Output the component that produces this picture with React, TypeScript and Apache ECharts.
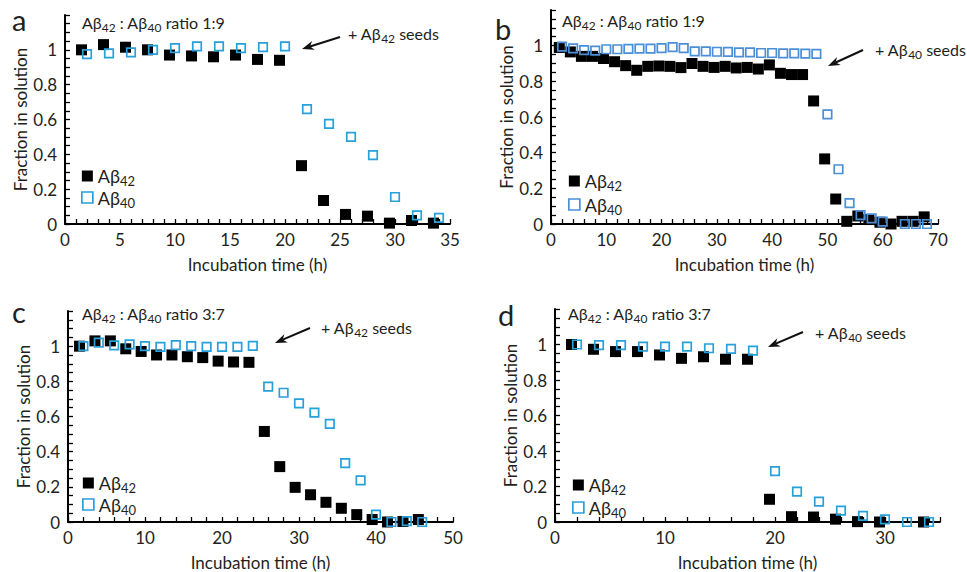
import React, { useEffect, useRef } from 'react';
import * as echarts from 'echarts';

// ---------- data ----------
// panel a (Aβ42 : Aβ40 1:9, + Aβ42 seeds)
const aX42 = [1.5, 3.5, 5.5, 7.5, 9.5, 11.5, 13.5, 15.5, 17.5, 19.5, 21.5, 23.5, 25.5, 27.5, 29.5, 31.5, 33.5];
const aY42 = [1.0, 1.03, 1.015, 1.0, 0.97, 0.965, 0.96, 0.97, 0.945, 0.94, 0.335, 0.135, 0.055, 0.045, 0.005, 0.02, 0.005];
const aX40 = [2, 4, 6, 8, 10, 12, 14, 16, 18, 20, 22, 24, 26, 28, 30, 32, 34];
const aY40 = [0.975, 0.98, 0.985, 1.0, 1.01, 1.02, 1.02, 1.01, 1.015, 1.02, 0.66, 0.575, 0.5, 0.395, 0.155, 0.05, 0.035];

// panel b (1:9, + Aβ40 seeds)
const bX42 = [1.5, 3.5, 5.5, 7.5, 9.5, 11.5, 13.5, 15.5, 17.5, 19.5, 21.5, 23.5, 25.5, 27.5, 29.5, 31.5, 33.5,
  35.5, 37.5, 39.5, 41.5, 43.5, 45.5, 47.5, 49.5, 51.5, 53.5, 55.5, 57.5, 59.5, 61.5, 63.5, 65.5, 67.5];
const bY42 = [0.99, 0.965, 0.94, 0.94, 0.928, 0.91, 0.888, 0.862, 0.884, 0.886, 0.884, 0.877, 0.9, 0.884, 0.878, 0.884, 0.875,
  0.878, 0.869, 0.892, 0.845, 0.838, 0.838, 0.69, 0.365, 0.14, 0.015, 0.045, 0.025, 0.01, 0.0, 0.015, 0.015, 0.04];
const bX40 = [2, 4, 6, 8, 10, 12, 14, 16, 18, 20, 22, 24, 26, 28, 30, 32, 34, 36, 38, 40, 42, 44, 46, 48,
  50, 52, 54, 56, 58, 60, 64, 66, 68];
const bY40 = [0.995, 0.985, 0.975, 0.972, 0.98, 0.98, 0.982, 0.983, 0.983, 0.986, 0.992, 0.986, 0.968, 0.968, 0.966, 0.965,
  0.962, 0.962, 0.959, 0.959, 0.957, 0.957, 0.955, 0.954, 0.615, 0.307, 0.117, 0.05, 0.032, 0.013, 0.0, 0.0, 0.0];

// panel c (3:7, + Aβ42 seeds)
const cX42 = [1.5, 3.5, 5.5, 7.5, 9.5, 11.5, 13.5, 15.5, 17.5, 19.5, 21.5, 23.5, 25.5, 27.5, 29.5, 31.5, 33.5, 35.5, 37.5, 39.5, 41.5, 43.5, 45.5];
const cY42 = [1.0, 1.03, 1.03, 0.985, 0.97, 0.95, 0.95, 0.94, 0.935, 0.915, 0.91, 0.908, 0.515, 0.315, 0.197, 0.155, 0.112, 0.078, 0.042, 0.014, 0.0, 0.003, 0.014];
const cX40 = [2, 4, 6, 8, 10, 12, 14, 16, 18, 20, 22, 24, 26, 28, 30, 32, 34, 36, 38, 40, 42, 44, 46];
const cY40 = [1.0, 1.02, 1.005, 1.01, 1.0, 0.996, 1.006, 1.0, 0.996, 0.996, 0.996, 1.002, 0.77, 0.735, 0.675, 0.622, 0.558, 0.335, 0.237, 0.042, 0.0, 0.005, 0.0];

// panel d (3:7, + Aβ40 seeds)
const dX42 = [1.5, 3.5, 5.5, 7.5, 9.5, 11.5, 13.5, 15.5, 17.5, 19.5, 21.5, 23.5, 25.5, 27.5, 29.5, 33.5];
const dY42 = [1.0, 0.973, 0.96, 0.96, 0.941, 0.922, 0.931, 0.917, 0.917, 0.128, 0.03, 0.028, 0.016, 0.002, 0.0, 0.0];
const dX40 = [2, 4, 6, 8, 10, 12, 14, 16, 18, 20, 22, 24, 26, 28, 30, 32, 34];
const dY40 = [1.0, 0.997, 0.997, 0.988, 0.988, 0.988, 0.979, 0.975, 0.965, 0.287, 0.171, 0.115, 0.064, 0.034, 0.015, 0.0, 0.0];

const X_TITLE = 'Incubation time (h)';
const Y_TITLE = 'Fraction in solution';
const PANEL_LETTERS = ['a', 'b', 'c', 'd'];
const RATIOS = ['1:9', '1:9', '3:7', '3:7'];
const SEED_SUBS = ['42', '40', '42', '40'];

// ---------- styles / layout ----------
const FONT = 'Lato, "Noto Sans", sans-serif';
const TXT = '#231f20';
const BLUE = '#27a1d9';
const BLUE_B = '#4a8fd8';

const PANELS = [
  { grid: { left: 65, top: 15, width: 385, height: 209 }, xMax: 35, xTick: 1, xLab: 5, blue: BLUE, s42: [aX42, aY42], s40: [aX40, aY40], lg: { left: 81, top: 167, gap: 1 } },
  { grid: { left: 551, top: 10, width: 387, height: 214 }, xMax: 70, xTick: 2, xLab: 10, blue: BLUE_B, s42: [bX42, bY42], s40: [bX40, bY40], lg: { left: 568, top: 172, gap: 3 } },
  { grid: { left: 68, top: 311, width: 385, height: 212 }, xMax: 50, xTick: 2, xLab: 10, blue: BLUE, s42: [cX42, cY42], s40: [cX40, cY40], lg: { left: 82, top: 474, gap: 1 } },
  { grid: { left: 555, top: 309, width: 385, height: 213 }, xMax: 35, xTick: 2, xLab: 10, blue: BLUE, s42: [dX42, dY42], s40: [dX40, dY40], lg: { left: 572, top: 476, gap: 2 } },
];

const NOTES = [
  { lx: 12, ly: 19, tx: 82, ty: 22, sx: 348, sy: 33, arrow: [340, 37, 302, 49] },
  { lx: 495, ly: 28, tx: 562, ty: 20, sx: 875, sy: 49, arrow: [863, 50, 828, 66] },
  { lx: 12, ly: 311, tx: 82, ty: 313, sx: 321, sy: 327, arrow: [310, 328, 275, 343] },
  { lx: 498, ly: 314, tx: 568, ty: 313, sx: 815, sy: 332, arrow: [803, 332, 768, 347] },
];

function pairs(xs: number[], ys: number[]) {
  return xs.map((x, i) => [x, ys[i]]);
}

function yLabel(v: number) {
  const r = Math.round(v * 100);
  if (r % 20 !== 0 || r > 100) return '';
  return String(r / 100);
}

function xLabel(step: number) {
  return (v: number) => {
    const r = Math.round(v);
    return Math.abs(v - r) < 1e-6 && r % step === 0 ? String(r) : '';
  };
}

function richOpt(size: number, sub: number) {
  return {
    n: { fontSize: size, fontFamily: FONT, color: TXT, lineHeight: 22 },
    s: { fontSize: sub, fontFamily: FONT, color: TXT, padding: [10, 0, 0, 0] },
  };
}
function richGfx(size: number, sub: number) {
  return {
    n: { fontSize: size, fontFamily: FONT, fill: TXT, lineHeight: 22 },
    s: { fontSize: sub, fontFamily: FONT, fill: TXT, padding: [10, 0, 0, 0] },
  };
}

function arrowHead(x1: number, y1: number, x2: number, y2: number) {
  const len = 12, half = 4.5;
  const dx = x2 - x1, dy = y2 - y1, L = Math.hypot(dx, dy);
  const ux = dx / L, uy = dy / L, nx = -uy, ny = ux;
  const bx = x2 - ux * len, by = y2 - uy * len;
  return [
    [x2, y2],
    [bx + nx * half, by + ny * half],
    [x2 - ux * len * 0.7, y2 - uy * len * 0.7],
    [bx - nx * half, by - ny * half],
  ];
}

function buildOption() {
  const grid: any[] = [];
  const xAxis: any[] = [];
  const yAxis: any[] = [];
  const series: any[] = [];
  const legend: any[] = [];
  const graphic: any[] = [];

  PANELS.forEach((p, i) => {
    grid.push({ ...p.grid, containLabel: false });
    xAxis.push({
      type: 'value', gridIndex: i, min: 0, max: p.xMax, interval: p.xTick,
      axisLine: { show: true, onZero: false, lineStyle: { color: '#000', width: 2 } },
      axisTick: { show: true, inside: true, length: 5, lineStyle: { color: '#000', width: 1.3 } },
      axisLabel: { formatter: xLabel(p.xLab), color: TXT, fontSize: 17, fontFamily: FONT, margin: 7, showMinLabel: true, showMaxLabel: true },
      splitLine: { show: false },
      name: X_TITLE, nameLocation: 'middle', nameGap: 32,
      nameTextStyle: { fontSize: 17, color: TXT, fontFamily: FONT },
    });
    yAxis.push({
      type: 'value', gridIndex: i, min: 0, max: 1.2, interval: 0.05,
      axisLine: { show: true, onZero: false, lineStyle: { color: '#000', width: 2 } },
      axisTick: { show: true, inside: true, length: 5, lineStyle: { color: '#000', width: 1.3 } },
      axisLabel: { formatter: yLabel, color: TXT, fontSize: 17, fontFamily: FONT, margin: 8, showMinLabel: true, showMaxLabel: true },
      splitLine: { show: false },
      name: Y_TITLE, nameLocation: 'middle', nameGap: 35, nameRotate: 90,
      nameTextStyle: { fontSize: 17, color: TXT, fontFamily: FONT },
    });
    series.push({
      type: 'scatter', name: 'Aβ42', xAxisIndex: i, yAxisIndex: i, symbol: 'rect', symbolSize: 11,
      itemStyle: { color: '#000', opacity: 1 }, silent: true, z: 2,
      data: pairs(p.s42[0], p.s42[1]),
    });
    series.push({
      type: 'scatter', name: 'Aβ40', xAxisIndex: i, yAxisIndex: i, symbol: 'rect', symbolSize: 8.5,
      itemStyle: { color: 'rgba(255,255,255,0)', borderColor: p.blue, borderWidth: 1.7, opacity: 1 }, silent: true, z: 3,
      data: pairs(p.s40[0], p.s40[1]),
    });
    legend.push({
      orient: 'vertical', left: p.lg.left, top: p.lg.top, itemGap: p.lg.gap, padding: 0,
      itemWidth: 11, itemHeight: 11, selectedMode: false,
      data: [
        { name: 'Aβ42', icon: 'rect', itemStyle: { color: '#000', borderWidth: 0, opacity: 1 } },
        { name: 'Aβ40', icon: 'rect', itemStyle: { color: 'rgba(255,255,255,0)', borderColor: p.blue, borderWidth: 1.7, opacity: 1 } },
      ],
      formatter: (name: string) => (name === 'Aβ42' ? '{n|Aβ}{s|42}' : '{n|Aβ}{s|40}'),
      textStyle: { rich: richOpt(18, 13) },
    });

    const nt = NOTES[i];
    graphic.push({
      type: 'text', x: nt.lx, y: nt.ly, silent: true,
      style: { text: PANEL_LETTERS[i], fontSize: 29, fontFamily: FONT, fill: TXT, verticalAlign: 'middle' },
    });
    graphic.push({
      type: 'text', x: nt.tx, y: nt.ty, silent: true,
      style: {
        text: `{n|Aβ}{s|42}{n| : Aβ}{s|40}{n| ratio ${RATIOS[i]}}`,
        rich: richGfx(16, 12), verticalAlign: 'middle', align: 'left',
      },
    });
    graphic.push({
      type: 'text', x: nt.sx, y: nt.sy, silent: true,
      style: {
        text: `{n|+ Aβ}{s|${SEED_SUBS[i]}}{n| seeds}`,
        rich: richGfx(16, 12), verticalAlign: 'middle', align: 'left',
      },
    });
    const [x1, y1, x2, y2] = nt.arrow;
    const head = arrowHead(x1, y1, x2, y2);
    graphic.push({
      type: 'line', silent: true,
      shape: { x1, y1, x2: head[2][0], y2: head[2][1] },
      style: { stroke: '#111', lineWidth: 2 },
    });
    graphic.push({
      type: 'polygon', silent: true,
      shape: { points: head },
      style: { fill: '#111' },
    });
  });

  return {
    animation: false,
    backgroundColor: '#fff',
    textStyle: { fontFamily: FONT },
    grid, xAxis, yAxis, series, legend, graphic,
  };
}

export default function App() {
  const ref = useRef<HTMLDivElement>(null);
  useEffect(() => {
    const chart = echarts.init(ref.current!, null, { renderer: 'svg' });
    chart.setOption(buildOption() as any);
    return () => chart.dispose();
  }, []);
  return (
    <div
      ref={ref}
      style={{ position: 'fixed', left: 0, top: 0, width: 967, height: 572, background: '#fff' }}
    />
  );
}
